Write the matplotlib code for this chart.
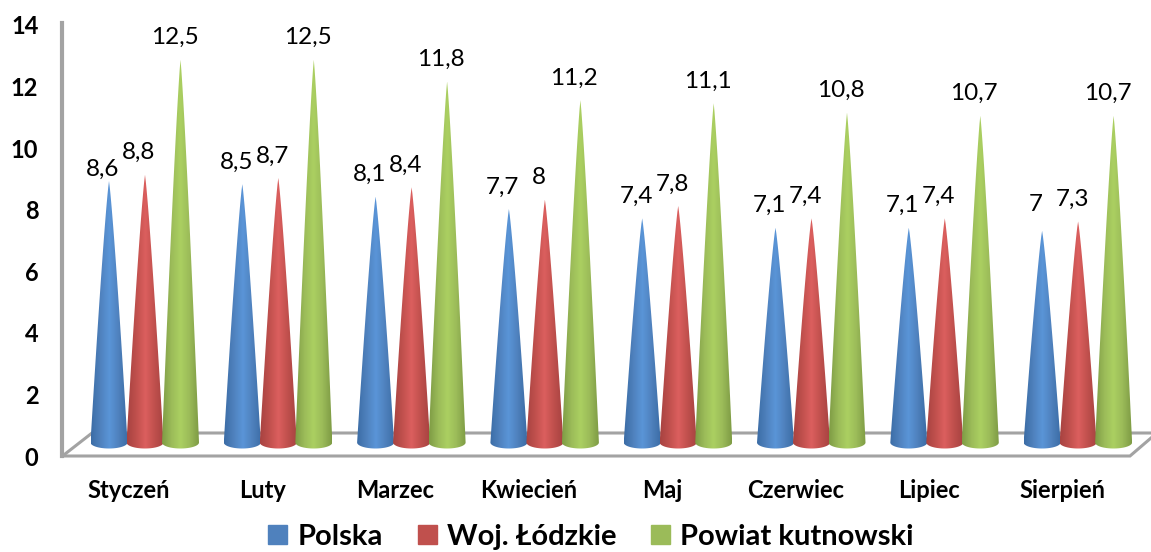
import numpy as np
from matplotlib import pyplot as plt
from matplotlib.colors import LinearSegmentedColormap
from matplotlib.patches import Patch, Polygon

months = ['Styczeń', 'Luty', 'Marzec', 'Kwiecień', 'Maj', 'Czerwiec', 'Lipiec', 'Sierpień']
y_ticks = [0, 2, 4, 6, 8, 10, 12, 14]

series_names = ['Polska', 'Woj. Łódzkie', 'Powiat kutnowski']
polska = [8.6, 8.5, 8.1, 7.7, 7.4, 7.1, 7.1, 7]
lodzkie = [8.8, 8.7, 8.4, 8, 7.8, 7.4, 7.4, 7.3]
kutnowski = [12.5, 12.5, 11.8, 11.2, 11.1, 10.8, 10.7, 10.7]

W, H = 1151, 552
GRAY = '#a3a3a3'
plt.rcParams['font.family'] = ['Lato', 'DejaVu Sans']

#edge / middle / highlight colour of each series
shades = [('#3c6da6', '#4f81bd', '#5a95d8'),
          ('#a84341', '#c0504d', '#dc5f5e'),
          ('#7f9c45', '#9bbb59', '#abd061')]
legend_colors = ['#4f81bd', '#c0504d', '#9bbb59']

fig = plt.figure(figsize=(W / 100, H / 100), dpi=100)

#Main axes cover the whole picture: x is month index, y is the value
X0, X_STEP = 145, 133.3
Y0, Y_STEP = 448.5, 31.1
ax = fig.add_axes([0, 0, 1, 1])
ax.axis('off')


def px(x, y):
    #picture pixels -> data coords, only for the chart furniture
    return (x - X0) / X_STEP, (Y0 - y) / Y_STEP


#Floor of the 3d box
floor = [(62.5, 456), (1130, 456), (1151, 438)]
ax.plot(*zip(*[px(*p) for p in floor]), color=GRAY, lw=2.2, solid_joinstyle='miter', zorder=1)
ax.plot(*zip(*[px(*p) for p in [(62.5, 456), (92, 433), (1151, 433)]]), color=GRAY, lw=2.2, zorder=1)

#Axes only for the value scale on the left wall
top, bottom = 23, 456
wall = fig.add_axes([62 / W, 1 - bottom / H, 1 / W, (bottom - top) / H])
wall.patch.set_visible(False)
wall.set_ylim(0, 14 * (bottom - top) / (bottom - 25))
wall.set_yticks(y_ticks)
wall.set_yticklabels(y_ticks, fontsize=17, fontweight='bold')
wall.set_xticks([])
wall.tick_params(axis='y', length=0, pad=17)
for side in ['top', 'right', 'bottom']:
    wall.spines[side].set_visible(False)
wall.spines['left'].set_color(GRAY)
wall.spines['left'].set_linewidth(3)

#Cones
half_width = 18.5 / X_STEP
sag = 6 / Y_STEP
offsets = np.array([-36, 0, 35.5]) / X_STEP
for s, values in enumerate([polska, lodzkie, kutnowski]):
    cmap = LinearSegmentedColormap.from_list('c', [shades[s][0], shades[s][1], shades[s][2], shades[s][1], shades[s][0]])
    for i, v in enumerate(values):
        xc = i + offsets[s]
        #sides bulge a little, they are not straight
        h = np.linspace(0, 1, 40)
        side = half_width * h ** 0.85
        side_y = v - (v - sag) * h
        t = np.linspace(0, np.pi, 30)
        arc_x = xc + half_width * np.cos(t)
        arc_y = sag - sag * np.sin(t)
        outline = np.vstack([np.column_stack([xc + side, side_y]),
                             np.column_stack([arc_x, arc_y]),
                             np.column_stack([xc - side[::-1], side_y[::-1]])])
        cone = Polygon(outline, closed=True, transform=ax.transData, fc='none', ec='none')
        ax.add_patch(cone)
        img = ax.imshow(np.linspace(0, 1, 64)[None, :], cmap=cmap, aspect='auto', zorder=3 + s * 0.01,
                        extent=(xc - half_width, xc + half_width, 0, v), interpolation='bilinear')
        img.set_clip_path(cone)

        #most labels sit up and left of the tip
        dy = 22
        if s == 0 and i == 0:
            dy = 12
        if s == 0 and i == 7:
            dy = 26
        ax.annotate(str(v).replace('.', ','), (xc, v), xytext=(-6 * 0.72, dy * 0.72), textcoords='offset points',
                    ha='center', va='center', fontsize=17.5, color='black', zorder=6)

ax.set_xlim(-X0 / X_STEP, (W - X0) / X_STEP)
ax.set_ylim((Y0 - H) / Y_STEP, Y0 / Y_STEP)

#Month labels
for i, m in enumerate(months):
    ax.text(i - 16 / X_STEP, (Y0 - 491) / Y_STEP, m, ha='center', va='center', fontsize=17, fontweight='bold')

handles = [Patch(color=c) for c in legend_colors]
leg = ax.legend(handles, series_names, ncol=3, loc='center', bbox_to_anchor=(591 / W, 1 - 537 / H), frameon=False,
                handlelength=0.65, handleheight=0.65, handletextpad=0.35, columnspacing=1.2,
                prop={'size': 21, 'weight': 'bold'})

plt.savefig('out.png', dpi=100)
